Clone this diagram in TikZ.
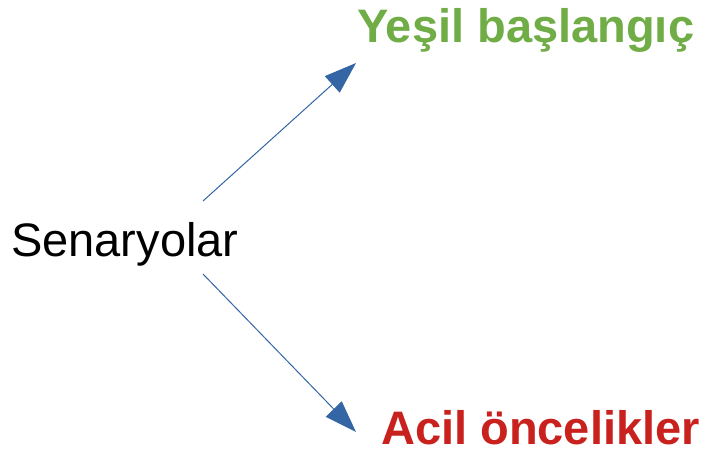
\documentclass[tikz,border=0pt]{standalone}
\usepackage{fontspec}
\setmainfont{Liberation Sans}
\usetikzlibrary{arrows.meta}
\definecolor{arrblue}{RGB}{52,101,164}
\definecolor{startgreen}{RGB}{112,173,71}
\definecolor{urgentred}{RGB}{201,33,30}
\begin{document}
\begin{tikzpicture}[x=1pt,y=-1pt,
    lbl/.style={inner sep=0pt,anchor=base west,font=\fontsize{47}{56}\selectfont},
    arr/.style={arrblue,line width=1pt,-{Triangle[length=32pt,width=22pt]}}]
                        \useasboundingbox (0,0) rectangle (706,454);
                        \node[lbl] (senar) at (11,256) {Senaryolar};
                        \node[lbl,startgreen,font=\fontsize{47}{56}\selectfont\bfseries] (yesil) at (357,43) {Yeşil başlangıç};
                        \node[lbl,urgentred,font=\fontsize{47}{56}\selectfont\bfseries] (acil) at (381,444) {Acil öncelikler};
                        \draw[arr] ([shift={(-35.7,-55)}]senar.base east) -- ([shift={(-1,20)}]yesil.base west);
                        \draw[arr] ([shift={(-35.7,18)}]senar.base east) -- ([shift={(-25,-12)}]acil.base west);
                    \end{tikzpicture}
\end{document}
